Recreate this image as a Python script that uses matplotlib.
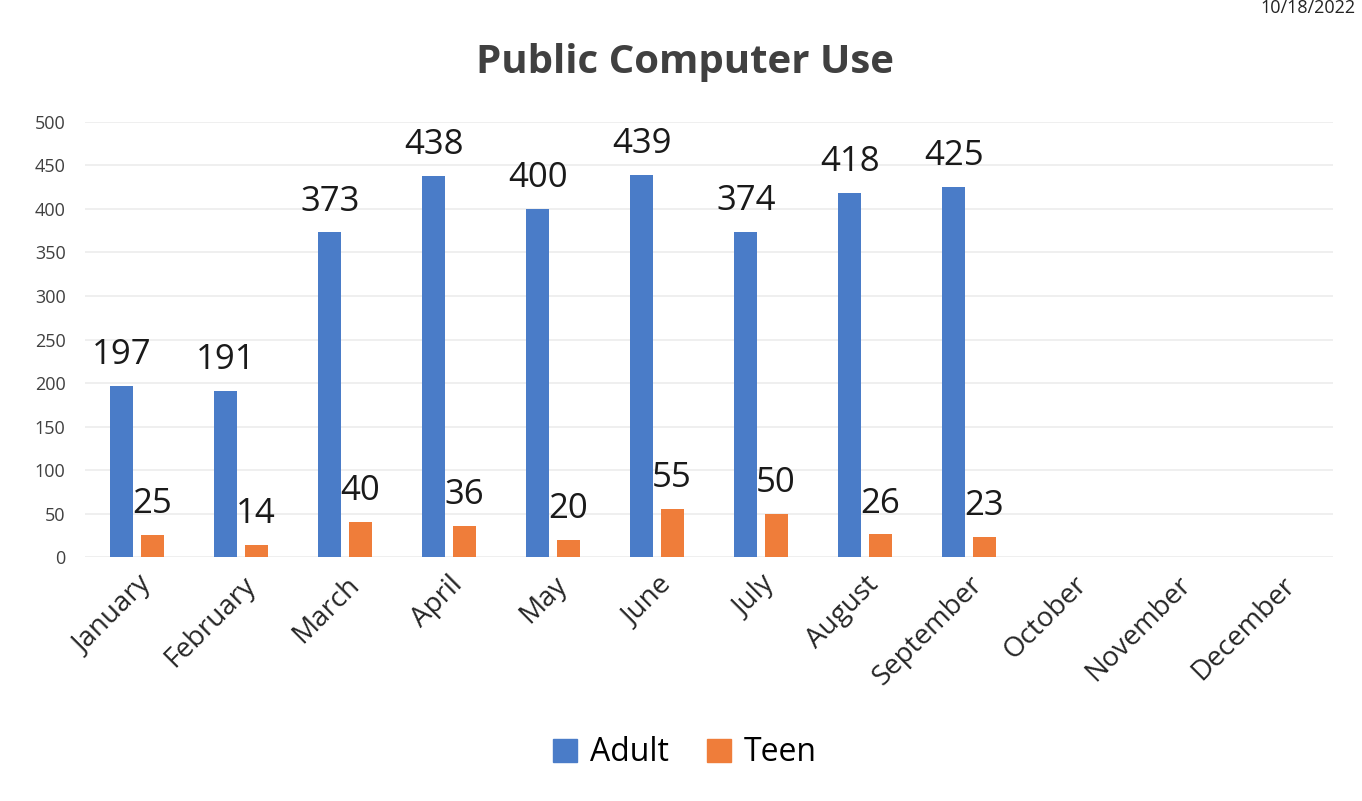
import matplotlib
matplotlib.use("Agg")
import matplotlib.pyplot as plt
import numpy as np

months = ["January", "February", "March", "April", "May", "June", "July",
          "August", "September", "October", "November", "December"]
adult = [197, 191, 373, 438, 400, 439, 374, 418, 425]
teen = [25, 14, 40, 36, 20, 55, 50, 26, 23]
y_ticks = [0, 50, 100, 150, 200, 250, 300, 350, 400, 450, 500]

blue = "#4a7cc8"
orange = "#ef7d3a"
font = ["Open Sans", "DejaVu Sans"]
plt.rcParams["font.family"] = font

fig = plt.figure(figsize=(13.62, 8.01), dpi=100)
ax = fig.add_axes([0.0624, 0.3046, 0.9163, 0.5431])

x = np.arange(len(months))
w = 0.22
gap = 0.07
xa = x[:len(adult)] - (w + gap) / 2
xt = x[:len(teen)] + (w + gap) / 2
ax.bar(xa, adult, width=w, color=blue, zorder=3)
ax.bar(xt, teen, width=w, color=orange, zorder=3)

for xi, v in zip(xa, adult):
    ax.annotate(str(v), (xi, v), xytext=(0, 10), textcoords="offset points",
                ha="center", va="bottom", fontsize=25, color="#1a1a1a")
for xi, v in zip(xt, teen):
    ax.annotate(str(v), (xi, v), xytext=(0, 10), textcoords="offset points",
                ha="center", va="bottom", fontsize=25, color="#1a1a1a")

ax.set_xlim(-0.5, len(months) - 0.5)
ax.set_ylim(0, 500)
ax.set_yticks(y_ticks)
ax.set_yticklabels([str(t) for t in y_ticks], fontsize=13, color="#404040")
ax.set_xticks(x)
ax.set_xticklabels(months, rotation=45, ha="right", rotation_mode="anchor",
                   fontsize=20, color="#262626")
ax.tick_params(axis="both", length=0)
ax.tick_params(axis="y", pad=14)
ax.tick_params(axis="x", pad=10)
ax.grid(axis="y", color="#ececec", linewidth=1.2, zorder=0)
for s in ax.spines.values():
    s.set_visible(False)

fig.text(0.503, 0.922, "Public Computer Use", ha="center", va="center",
         fontsize=29, fontweight="bold", color="#404040")
fig.text(0.995, 0.99, "10/18/2022", ha="right", va="center",
         fontsize=13, color="#222222")

handles = [plt.Rectangle((0, 0), 1, 1, color=blue),
           plt.Rectangle((0, 0), 1, 1, color=orange)]
fig.legend(handles, ["Adult", "Teen"], loc="center", bbox_to_anchor=(0.503, 0.06),
           ncol=2, frameon=False, fontsize=23, handlelength=0.75, handleheight=0.75,
           handletextpad=0.4, columnspacing=1.2)

fig.savefig("out.png", dpi=100, facecolor="white")
